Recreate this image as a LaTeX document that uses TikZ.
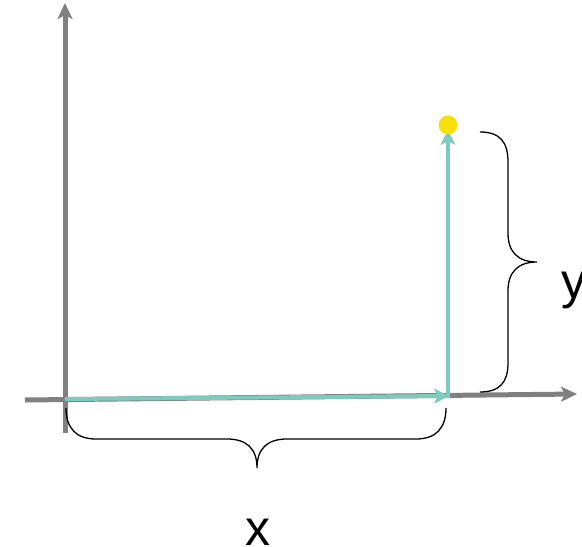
\documentclass[tikz,border=0pt]{standalone}
\usepackage{fontspec}
\setmainfont{Liberation Sans}
\usetikzlibrary{arrows.meta}
\definecolor{axisgray}{HTML}{808080}
\definecolor{vecteal}{HTML}{7DCBBE}
\definecolor{dotyellow}{HTML}{F7E00A}
\begin{document}
\begin{tikzpicture}[x=1pt,y=-1pt,
  axis/.style={draw=axisgray,line width=5pt,-{Stealth[length=16pt,width=15pt,inset=4pt]}},
  vec/.style={draw=vecteal,line width=4pt,-{Stealth[length=15pt,width=15pt,inset=4pt]}},
  bracestyle/.style={draw=black,line width=1.3pt},
  lab/.style={font=\fontsize{50}{60}\selectfont,inner sep=0pt}]
\useasboundingbox (0,0) rectangle (582,547);
% axes
\coordinate (xs) at (25,400);
\coordinate (xe) at (577,394);
\coordinate (ys) at (65,433);
\coordinate (ye) at (65,3);
\draw[axis] (xs) -- (xe);
\draw[axis] (ys) -- (ye);
% vectors
\coordinate (o) at (65,399);
\coordinate (px) at (449,396);
\coordinate (pt) at (448,130);
\draw[vec] (o) -- (px);
\draw[vec] (448,398) -- (pt);
\node[circle,fill=dotyellow,minimum size=19pt,inner sep=0pt] (dot) at (448,125) {};
% right brace
\coordinate (rb1) at (480,132);
\coordinate (rb2) at (508,162);
\coordinate (rb3) at (508,233);
\coordinate (rbt) at (537,262);
\coordinate (rb4) at (508,291);
\coordinate (rb5) at (508,363);
\coordinate (rb6) at (480,392);
\draw[bracestyle] (rb1) .. controls (500,132) and (508,142) .. (rb2) -- (rb3)
  .. controls (508,252) and (518,262) .. (rbt)
  .. controls (518,262) and (508,272) .. (rb4) -- (rb5)
  .. controls (508,382) and (500,392) .. (rb6);
% bottom brace
\coordinate (bb1) at (66,408);
\coordinate (bb2) at (96,439);
\coordinate (bb3) at (227,439);
\coordinate (bbt) at (257,468);
\coordinate (bb4) at (287,439);
\coordinate (bb5) at (416,439);
\coordinate (bb6) at (446,408);
\draw[bracestyle] (bb1) .. controls (66,428) and (76,439) .. (bb2) -- (bb3)
  .. controls (246,439) and (257,448) .. (bbt)
  .. controls (257,448) and (268,439) .. (bb4) -- (bb5)
  .. controls (436,439) and (446,428) .. (bb6);
% labels
\node[lab,anchor=base west] (ylab) at (561,298) {y};
\node[lab,anchor=base] (xlab) at (258,545) {x};
\end{tikzpicture}
\end{document}
